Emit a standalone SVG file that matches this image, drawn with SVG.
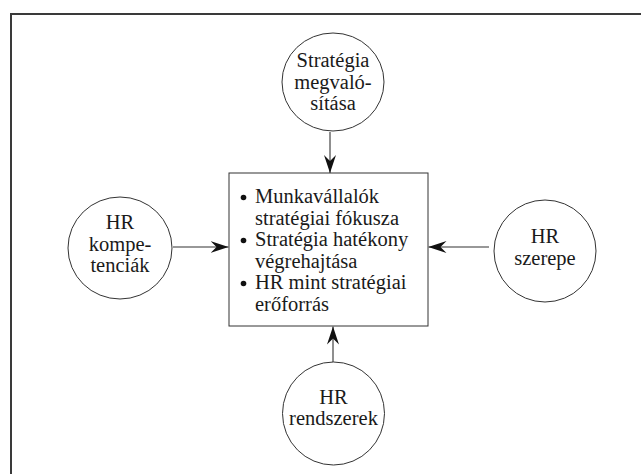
<svg xmlns="http://www.w3.org/2000/svg" width="641" height="474" viewBox="0 0 641 474">
<defs>
<marker id="ah" viewBox="0 0 18 12" refX="18" refY="6" markerWidth="18" markerHeight="12" markerUnits="userSpaceOnUse" orient="auto">
<path d="M0,0 L18,6 L0,12 L6,6 Z" fill="#111"/>
</marker>
</defs>
<style>
.t{font-family:"Liberation Serif","Times New Roman",serif;font-size:20.5px;fill:#1a1a1a}
.m{text-anchor:middle}
.n{fill:#fff;stroke:#333;stroke-width:1}
.c{stroke:#333;stroke-width:1.1;fill:none;marker-end:url(#ah)}
</style>
<rect x="0" y="0" width="641" height="474" fill="#fff"/>
<rect x="11" y="14" width="660" height="500" fill="none" stroke="#3a3a3a" stroke-width="2"/>
<g id="connectors">
<line class="c" x1="330" y1="132" x2="330" y2="173"/>
<line class="c" x1="173" y1="247" x2="228.5" y2="247"/>
<line class="c" x1="489" y1="247" x2="428.5" y2="247"/>
<line class="c" x1="333" y1="362" x2="333" y2="326.5"/>
</g>
<g id="center">
<rect class="n" x="229" y="173" width="199" height="153"/>
<circle cx="243.5" cy="197.5" r="2.8" fill="#111"/>
<circle cx="243.5" cy="240.5" r="2.8" fill="#111"/>
<circle cx="243.5" cy="283.5" r="2.8" fill="#111"/>
<text class="t" x="255" y="203">Munkavállalók</text>
<text class="t" x="255" y="224.5">stratégiai fókusza</text>
<text class="t" x="255" y="246">Stratégia hatékony</text>
<text class="t" x="255" y="267.5">végrehajtása</text>
<text class="t" x="255" y="289">HR mint stratégiai</text>
<text class="t" x="255" y="310.5">erőforrás</text>
</g>
<g id="top">
<ellipse class="n" cx="333" cy="82" rx="51" ry="49"/>
<text class="t m" x="333" y="67">Stratégia</text>
<text class="t m" x="333" y="88.5">megvaló-</text>
<text class="t m" x="333" y="110">sítása</text>
</g>
<g id="left">
<ellipse class="n" cx="120" cy="248" rx="52" ry="51"/>
<text class="t m" x="120" y="229">HR</text>
<text class="t m" x="120" y="250.5">kompe-</text>
<text class="t m" x="120" y="272">tenciák</text>
</g>
<g id="right">
<ellipse class="n" cx="545" cy="251" rx="51" ry="51"/>
<text class="t m" x="545" y="243">HR</text>
<text class="t m" x="545" y="264.5">szerepe</text>
</g>
<g id="bottom">
<ellipse class="n" cx="333.5" cy="413.5" rx="51" ry="51.5"/>
<text class="t m" x="333.5" y="403.5">HR</text>
<text class="t m" x="333.5" y="425">rendszerek</text>
</g>
</svg>
